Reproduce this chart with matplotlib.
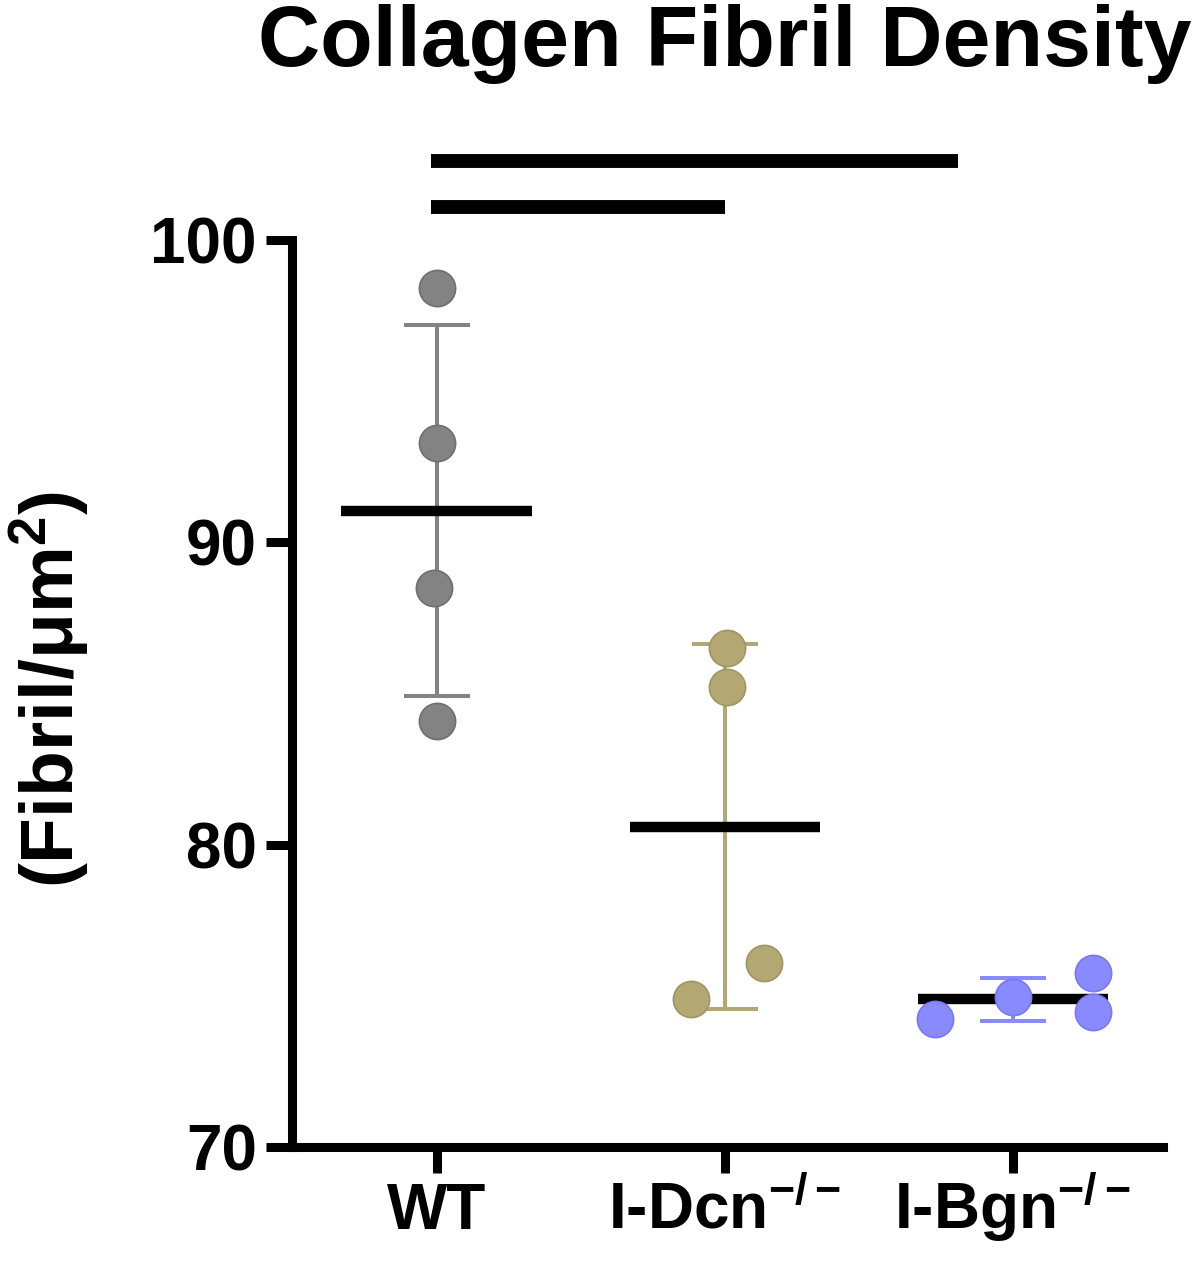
import matplotlib
matplotlib.use('Agg')
import matplotlib.pyplot as plt
import numpy as np

plt.rcParams['font.family'] = ['Liberation Sans', 'DejaVu Sans']
plt.rcParams['font.weight'] = 'bold'
plt.rcParams['mathtext.fontset'] = 'custom'
plt.rcParams['mathtext.rm'] = 'Liberation Sans:bold'
plt.rcParams['mathtext.it'] = 'Liberation Sans:bold'
plt.rcParams['mathtext.bf'] = 'Liberation Sans:bold'
plt.rcParams['mathtext.default'] = 'rm'

# data
groups = ['WT', 'I-Dcn$^{-/-}$', 'I-Bgn$^{-/-}$']
wt_vals = [98.4, 93.3, 88.5, 84.1]
dcn_vals = [86.5, 85.2, 76.1, 74.9]
bgn_vals = [74.25, 74.97, 75.74, 74.45]
# horizontal jitter of the dots (category units)
wt_jitter = [0.0, 0.0, -0.007, 0.0]
dcn_jitter = [0.01, 0.01, 0.135, -0.115]
bgn_jitter = [-0.27, 0.0, 0.28, 0.28]
means = [91.05, 80.6, 74.88]
sds = [6.13, 6.03, 0.71]
# significance bars: (from group, to group, height)
sig_pairs = [(0, 1, 101.1), (0, 2, 102.6)]

colors = ['#838383', '#b3a874', '#8a8aff']
edges = ['#6f6f6f', '#a09565', '#7878f0']

fig = plt.figure(figsize=(12, 12.62), dpi=100)
ax = fig.add_axes([0.243, 0.0911, 0.726, 0.7187])

allvals = [wt_vals, dcn_vals, bgn_vals]
alljit = [wt_jitter, dcn_jitter, bgn_jitter]
for i in range(3):
    ax.errorbar(i, means[i], yerr=sds[i], fmt='none', ecolor=colors[i],
                elinewidth=2.9, capsize=24, capthick=2.9, zorder=2)
    ax.plot([i - 0.33, i + 0.33], [means[i], means[i]], color='black',
            lw=7.5, solid_capstyle='butt', zorder=3)
    x = np.array(alljit[i]) + i
    ax.scatter(x, allvals[i], s=680, color=colors[i], edgecolors=edges[i],
               linewidths=1.2, zorder=4, clip_on=False)

for a, b, yv in sig_pairs:
    ax.plot([a - 0.02, b - 0.19 * (b == 2)], [yv, yv], color='black',
            lw=10, solid_capstyle='butt', clip_on=False)

ax.set_xlim(-0.503, 2.521)
ax.set_ylim(70, 100)
ax.set_yticks([70, 80, 90, 100])
ax.set_xticks([0, 1, 2])
ax.set_xticklabels(groups)
for s in ['top', 'right']:
    ax.spines[s].set_visible(False)
for s in ['left', 'bottom']:
    ax.spines[s].set_linewidth(6.5)
ax.tick_params(axis='y', length=19, width=6.5, labelsize=46, pad=6)
ax.tick_params(axis='x', length=19, width=6.5, labelsize=46, pad=40)
for lab in ax.get_xticklabels():
    lab.set_va('baseline')

fig.text(50 / 1200, 1 - 690 / 1262, '(Fibril/μm$^2$)', rotation=90,
         ha='center', va='center', fontsize=54, fontweight='bold')
fig.text(725 / 1200, 1 - 44 / 1262, 'Collagen Fibril Density', ha='center',
         va='center', fontsize=62, fontweight='bold')

fig.savefig('out.png', dpi=100)
